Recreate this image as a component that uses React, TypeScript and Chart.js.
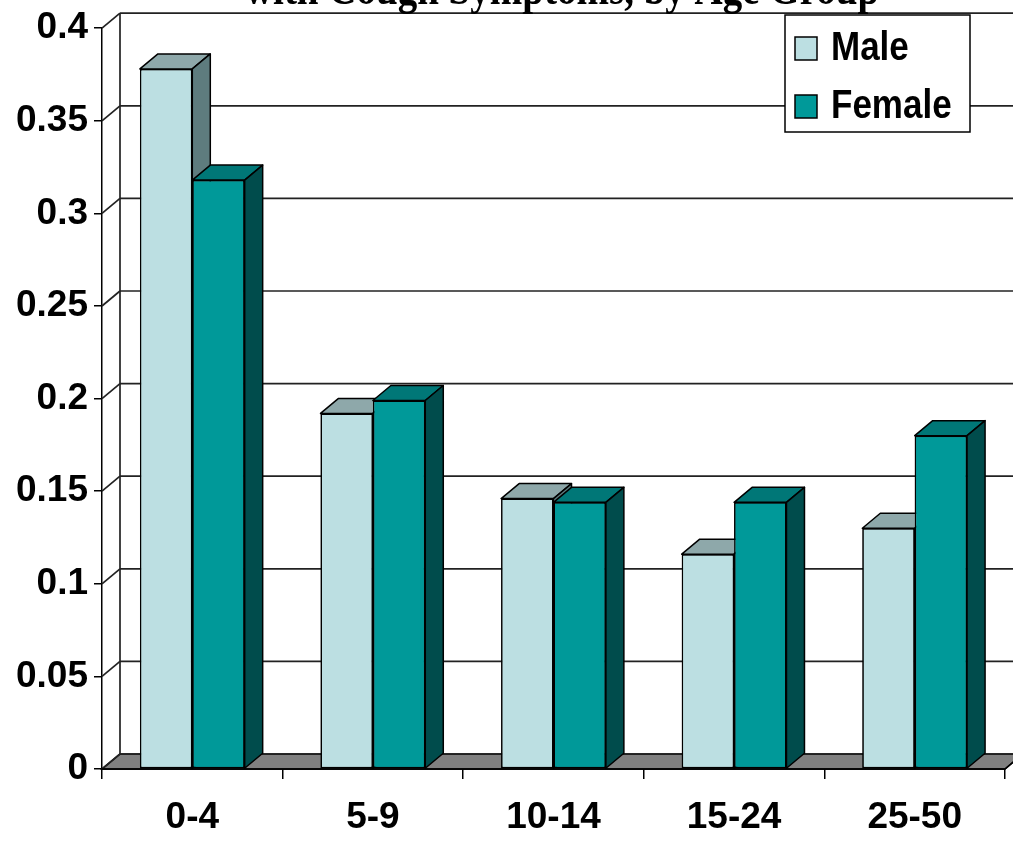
import { useEffect, useRef } from 'react';
import { Chart, registerables } from 'chart.js';

Chart.register(...registerables);

const categories = ['0-4', '5-9', '10-14', '15-24', '25-50'];
const maleValues = [0.378, 0.192, 0.146, 0.116, 0.13];
const femaleValues = [0.318, 0.199, 0.144, 0.144, 0.18];
const seriesNames = ['Male', 'Female'];
const titleText = 'with Cough Symptoms, by Age Group';
const yMin = 0;
const yMax = 0.4;
const yStep = 0.05;

const DX = 18;
const DY = -15;

const palette: Record<string, { front: string; top: string; side: string }> = {
  Male: { front: '#BCDFE2', top: '#8EA8AA', side: '#5E7C7E' },
  Female: { front: '#009999', top: '#007777', side: '#004C4C' },
};

function stretchedText(
  ctx: CanvasRenderingContext2D,
  text: string,
  x: number,
  y: number,
  font: string,
  sy: number,
  align: CanvasTextAlign,
  baseline: CanvasTextBaseline
) {
  ctx.save();
  ctx.translate(x, y);
  ctx.scale(1, sy);
  ctx.font = font;
  ctx.fillStyle = '#000';
  ctx.textAlign = align;
  ctx.textBaseline = baseline;
  ctx.fillText(text, 0, 0);
  ctx.restore();
}

const depthPlugin = {
  id: 'depth3d',
  beforeDraw(chart: any) {
    const { ctx } = chart;
    ctx.save();
    ctx.fillStyle = '#ffffff';
    ctx.fillRect(0, 0, chart.width, chart.height);
    ctx.restore();
  },
  beforeDatasetsDraw(chart: any) {
    const { ctx, chartArea: ca } = chart;
    const y = chart.scales.y;
    const y0 = y.getPixelForValue(0);
    ctx.save();
    ctx.lineWidth = 1.5;
    ctx.strokeStyle = '#000';
    // floor
    ctx.fillStyle = '#808080';
    ctx.beginPath();
    ctx.moveTo(ca.left, y0);
    ctx.lineTo(ca.right, y0);
    ctx.lineTo(ca.right + DX, y0 + DY);
    ctx.lineTo(ca.left + DX, y0 + DY);
    ctx.closePath();
    ctx.fill();
    ctx.stroke();
    // back wall gridlines and side wall diagonals
    ctx.strokeStyle = '#222';
    ctx.lineWidth = 1.7;
    y.ticks.forEach((t: any) => {
      const yf = y.getPixelForValue(t.value);
      const yb = yf + DY;
      ctx.beginPath();
      ctx.moveTo(ca.left + DX, yb);
      ctx.lineTo(chart.width, yb);
      ctx.stroke();
      ctx.beginPath();
      ctx.moveTo(ca.left, yf);
      ctx.lineTo(ca.left + DX, yb);
      ctx.stroke();
    });
    ctx.beginPath();
    ctx.moveTo(ca.left + DX, ca.top + DY);
    ctx.lineTo(ca.left + DX, y0 + DY);
    ctx.stroke();
    ctx.restore();
  },
  afterDatasetsDraw(chart: any) {
    const { ctx } = chart;
    // redraw in series order so that each right-hand bar covers the depth of its left neighbour
    chart.data.datasets.forEach((ds: any, i: number) => {
      const meta = chart.getDatasetMeta(i);
      const col = palette[ds.label];
      meta.data.forEach((bar: any) => {
        bar.draw(ctx, chart.chartArea);
        const p = bar.getProps(['x', 'y', 'base', 'width'], true);
        const l = p.x - p.width / 2;
        const r = p.x + p.width / 2;
        ctx.save();
        ctx.lineWidth = 1.5;
        ctx.strokeStyle = '#000';
        ctx.lineJoin = 'round';
        ctx.fillStyle = col.top;
        ctx.beginPath();
        ctx.moveTo(l, p.y);
        ctx.lineTo(r, p.y);
        ctx.lineTo(r + DX, p.y + DY);
        ctx.lineTo(l + DX, p.y + DY);
        ctx.closePath();
        ctx.fill();
        ctx.stroke();
        ctx.fillStyle = col.side;
        ctx.beginPath();
        ctx.moveTo(r, p.y);
        ctx.lineTo(r + DX, p.y + DY);
        ctx.lineTo(r + DX, p.base + DY);
        ctx.lineTo(r, p.base);
        ctx.closePath();
        ctx.fill();
        ctx.stroke();
        ctx.restore();
      });
    });
  },
  afterDraw(chart: any) {
    const { ctx, chartArea: ca } = chart;
    ctx.save();
    const y0 = chart.scales.y.getPixelForValue(0);
    ctx.strokeStyle = '#000';
    ctx.lineWidth = 1.5;
    ctx.beginPath();
    ctx.moveTo(ca.left, y0);
    ctx.lineTo(ca.right, y0);
    ctx.lineTo(ca.right + DX, y0 + DY);
    ctx.stroke();
    // title (cropped at the top edge, as in the source image)
    stretchedText(ctx, titleText, 562, 4, 'bold 39px "Liberation Serif"', 1.2, 'center', 'alphabetic');
    // legend
    const bx = 785, by = 15, bw = 185, bh = 117;
    ctx.fillStyle = '#fff';
    ctx.fillRect(bx, by, bw, bh);
    ctx.strokeStyle = '#000';
    ctx.lineWidth = 1.5;
    ctx.strokeRect(bx, by, bw, bh);
    const rows = [48, 106];
    seriesNames.forEach((name, i) => {
      const cy = rows[i];
      ctx.fillStyle = palette[name].front;
      ctx.fillRect(795, cy - 11, 22, 23);
      ctx.strokeRect(795, cy - 11, 22, 23);
      stretchedText(ctx, name, 831, cy + 1, 'bold 35px "Liberation Sans"', 1.18, 'left', 'middle');
    });
    ctx.restore();
  },
};

export default function App() {
  const ref = useRef<HTMLCanvasElement | null>(null);
  useEffect(() => {
    if (!ref.current) return;
    const tickFont = { family: '"Liberation Sans", Arial, sans-serif', size: 37, weight: 'bold' as const };
    const chart = new Chart(ref.current, {
      type: 'bar',
      data: {
        labels: categories,
        datasets: [
          {
            label: seriesNames[0],
            data: maleValues,
            backgroundColor: palette.Male.front,
            borderColor: '#000',
            borderWidth: 1.5,
            borderSkipped: false,
          },
          {
            label: seriesNames[1],
            data: femaleValues,
            backgroundColor: palette.Female.front,
            borderColor: '#000',
            borderWidth: 1.5,
            borderSkipped: false,
          },
        ],
      },
      options: {
        animation: false,
        responsive: false,
        maintainAspectRatio: false,
        layout: { padding: { top: 25, right: 8, left: 0, bottom: 0 } },
        datasets: { bar: { categoryPercentage: 0.58, barPercentage: 1 } },
        plugins: {
          legend: { display: false },
          title: { display: false },
          tooltip: { enabled: false },
        },
        scales: {
          x: {
            grid: {
              offset: true,
              drawOnChartArea: false,
              drawTicks: true,
              tickLength: 10,
              color: '#000',
              lineWidth: 1.5,
            },
            border: { display: true, color: '#000', width: 1.5 },
            ticks: { color: '#000', font: tickFont, padding: 17, maxRotation: 0 },
            afterFit: (s: any) => {
              s.height = 72;
            },
          },
          y: {
            min: yMin,
            max: yMax,
            grid: {
              drawOnChartArea: false,
              drawTicks: true,
              tickLength: 8,
              color: '#000',
              lineWidth: 1.5,
            },
            border: { display: true, color: '#000', width: 1.5 },
            ticks: {
              stepSize: yStep,
              color: '#000',
              font: tickFont,
              padding: 6,
              callback: (v: any) => String(parseFloat(Number(v).toFixed(2))),
            },
            afterFit: (s: any) => {
              s.width = 102;
            },
          },
        },
      },
      plugins: [depthPlugin],
    });
    return () => chart.destroy();
  }, []);
  return (
    <div style={{ position: 'absolute', left: 0, top: 0, width: 1013, height: 841 }}>
      <canvas ref={ref} width={1013} height={841} style={{ width: 1013, height: 841, display: 'block' }} />
    </div>
  );
}
